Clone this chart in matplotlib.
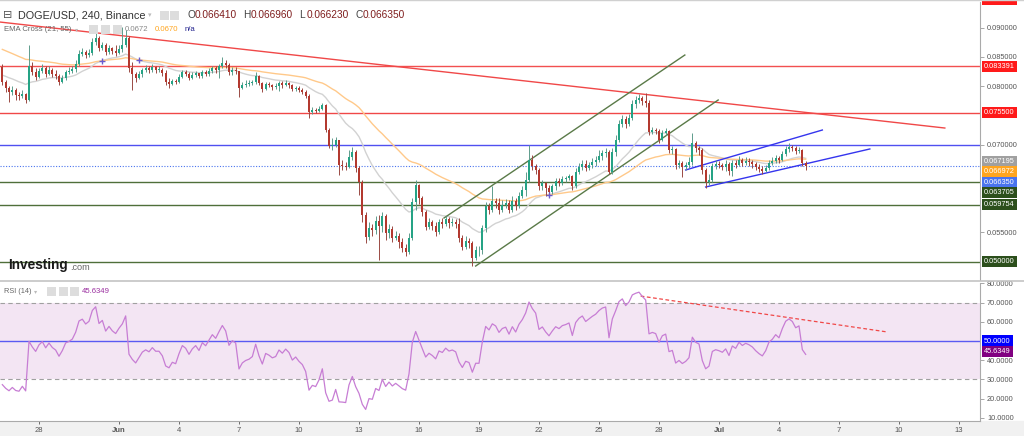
import numpy as np
import pandas as pd
import matplotlib
matplotlib.use("Agg")
import matplotlib.pyplot as plt
import matplotlib.dates as mdates
import matplotlib.transforms as mtransforms
from matplotlib.patches import Rectangle
from matplotlib.ticker import FixedLocator, FormatStrFormatter

plt.rcParams['font.family'] = ['Liberation Sans', 'DejaVu Sans']

# 4h candles, prices in units of 0.0001 (open of each candle = previous close)
UNIT = 1e-4
start_time = "2023-05-26 04:00"
first_open = 833
close = [
    807, 797, 790, 793, 785, 783, 787, 776, 834, 824,
    816, 826, 831, 821, 828, 821, 817, 807, 814, 824,
    826, 829, 838, 855, 858, 853, 857, 875, 882, 865,
    870, 858, 865, 860, 857, 864, 870, 882, 831, 821,
    814, 821, 828, 831, 828, 833, 828, 828, 822, 807,
    804, 809, 807, 816, 824, 821, 814, 819, 822, 817,
    824, 821, 826, 831, 828, 834, 840, 836, 824, 828,
    826, 797, 802, 804, 805, 807, 817, 805, 795, 804,
    802, 799, 800, 805, 802, 805, 802, 795, 797, 793,
    790, 783, 756, 759, 757, 761, 768, 725, 698, 699,
    708, 665, 664, 662, 679, 688, 660, 636, 580, 542,
    558, 554, 570, 561, 578, 549, 556, 540, 544, 534,
    523, 517, 540, 602, 631, 609, 585, 559, 568, 561,
    551, 568, 564, 573, 566, 568, 564, 540, 525, 535,
    532, 506, 520, 520, 558, 595, 588, 604, 600, 588,
    597, 600, 588, 604, 595, 612, 623, 640, 674, 664,
    657, 629, 635, 626, 619, 629, 638, 635, 641, 643,
    646, 629, 653, 662, 667, 660, 665, 670, 674, 681,
    686, 688, 653, 688, 708, 735, 744, 735, 746, 770,
    776, 780, 775, 771, 722, 725, 723, 708, 720, 723,
    691, 693, 665, 669, 662, 665, 670, 703, 694, 691,
    657, 636, 640, 664, 667, 665, 662, 667, 655, 669,
    665, 674, 669, 672, 670, 667, 662, 658, 655, 660,
    669, 672, 677, 674, 684, 693, 696, 694, 689, 691,
    669, 663.5]
high = [
    838, 811, 800, 800, 797, 790, 793, 788, 870, 841,
    831, 831, 838, 834, 834, 831, 828, 821, 819, 828,
    833, 834, 845, 862, 865, 862, 864, 882, 893, 886,
    875, 873, 870, 867, 870, 870, 901, 896, 886, 841,
    824, 826, 831, 836, 834, 838, 834, 834, 831, 828,
    814, 812, 812, 821, 828, 828, 824, 824, 826, 822,
    828, 828, 831, 834, 834, 838, 850, 845, 840, 833,
    833, 824, 807, 811, 811, 811, 824, 819, 807, 807,
    807, 804, 805, 809, 809, 811, 807, 804, 800, 800,
    797, 793, 787, 764, 763, 766, 771, 770, 728, 711,
    713, 708, 674, 670, 691, 696, 691, 664, 640, 585,
    568, 564, 578, 580, 585, 582, 564, 561, 552, 549,
    540, 530, 549, 609, 640, 633, 612, 588, 575, 571,
    568, 573, 575, 578, 577, 575, 573, 575, 546, 544,
    540, 535, 527, 527, 563, 602, 600, 629, 609, 609,
    605, 607, 605, 612, 609, 619, 629, 653, 699, 682,
    667, 660, 640, 636, 631, 633, 643, 643, 646, 646,
    650, 648, 660, 669, 674, 674, 670, 677, 681, 691,
    691, 694, 691, 694, 717, 742, 751, 749, 752, 776,
    783, 787, 783, 788, 776, 730, 728, 727, 725, 728,
    725, 698, 694, 674, 672, 670, 679, 720, 706, 698,
    694, 660, 650, 669, 674, 672, 669, 674, 670, 674,
    674, 681, 677, 679, 677, 674, 670, 667, 664, 665,
    674, 679, 682, 681, 689, 698, 703, 699, 698, 696,
    693, 672]
low = [
    802, 790, 773, 785, 776, 776, 780, 771, 775, 819,
    811, 814, 822, 816, 819, 816, 812, 802, 805, 811,
    821, 822, 824, 834, 852, 848, 850, 853, 870, 860,
    862, 853, 855, 855, 852, 855, 858, 867, 824, 793,
    807, 812, 816, 824, 822, 824, 822, 824, 817, 802,
    797, 802, 804, 805, 814, 817, 811, 812, 816, 814,
    814, 817, 817, 822, 822, 814, 831, 831, 819, 819,
    821, 781, 795, 799, 800, 802, 804, 802, 790, 793,
    799, 793, 795, 792, 797, 800, 797, 792, 792, 790,
    787, 780, 746, 752, 754, 756, 759, 722, 694, 691,
    696, 648, 657, 657, 660, 674, 653, 614, 568, 532,
    537, 544, 547, 503, 551, 537, 540, 534, 537, 523,
    517, 510, 513, 537, 588, 599, 578, 554, 556, 554,
    544, 547, 558, 561, 558, 561, 558, 534, 520, 522,
    523, 493, 503, 510, 513, 551, 582, 585, 592, 582,
    585, 592, 583, 585, 588, 592, 609, 612, 636, 657,
    650, 623, 623, 612, 612, 616, 623, 629, 631, 636,
    640, 623, 626, 650, 657, 655, 657, 660, 664, 670,
    674, 679, 650, 650, 681, 705, 730, 728, 732, 742,
    763, 771, 768, 764, 717, 718, 718, 703, 706, 717,
    686, 684, 658, 660, 645, 657, 660, 665, 688, 682,
    650, 626, 631, 636, 658, 660, 657, 655, 648, 646,
    660, 664, 664, 665, 664, 660, 657, 653, 650, 653,
    657, 665, 669, 669, 672, 681, 688, 689, 684, 686,
    664, 657]

# indicator seeds (value of the lines at the left edge)
ema_fast_seed = 820
ema_slow_seed = 865
rsi_seed_gain = 3.0
rsi_seed_loss = 6.0
# EMA cross signals shown on the chart
cross_times = ['2023-05-31 04:00', '2023-06-02 00:00', '2023-06-22 12:00']

# horizontal levels
level_values = [0.083391, 0.0755, 0.070, 0.063705, 0.059754, 0.050]
level_colors = ['#f25050', '#f04848', '#5050f0', '#4f6f3a', '#4f6f3a', '#4f6f3a']

# drawn trendlines: (start, end), (price start, price end)
red_trend = (['2023-05-26 01:00', '2023-07-12 07:00'], [0.09097, 0.07285])
green_upper = (['2023-06-17 06:00', '2023-06-29 07:00'], [0.05747, 0.08533])
green_lower = (['2023-06-18 20:00', '2023-06-30 23:00'], [0.04926, 0.07764])
blue_upper = (['2023-06-29 08:00', '2023-07-06 04:00'], [0.06568, 0.07251])
blue_lower = (['2023-06-30 08:00', '2023-07-08 13:00'], [0.06277, 0.06927])
rsi_trend = (['2023-06-27 02:00', '2023-07-09 10:00'], [73.4, 54.7])

# right-axis value tags
price_tags = [0.09475, 0.083391, 0.0755, 0.067195, 0.066972, 0.06635, 0.063705, 0.059754, 0.050]
price_tag_text = ['0.094750', '0.083391', '0.075500', '0.067195', '0.066972', '0.066350',
                  '0.063705', '0.059754', '0.050000']
price_tag_colors = ['#ff1a1a', '#ff1a1a', '#ff1a1a', '#a0a0a0', '#ffa51f', '#4a74ee',
                    '#2c4f1c', '#2c4f1c', '#2c4f1c']
rsi_tags = [50.0, 45.6349]
rsi_tag_text = ['50.0000', '45.6349']
rsi_tag_colors = ['#0000ff', '#800080']

# axis ticks (values covered by tags are not labelled)
price_ticks = [0.055, 0.070, 0.080, 0.085, 0.090]
rsi_ticks = [10, 20, 30, 40, 60, 70, 80]
xtick_dates = ['2023-05-28', '2023-06-01', '2023-06-04', '2023-06-07', '2023-06-10', '2023-06-13',
               '2023-06-16', '2023-06-19', '2023-06-22', '2023-06-25', '2023-06-28', '2023-07-01',
               '2023-07-04', '2023-07-07', '2023-07-10', '2023-07-13']
xtick_labels = ['28', 'Jun', '4', '7', '10', '13', '16', '19', '22', '25', '28', 'Jul',
                '4', '7', '10', '13']

W, H = 1024, 436
fig = plt.figure(figsize=(W / 100, H / 100), dpi=100)
fig.patch.set_facecolor('white')
fig.add_artist(Rectangle((0, 0), 1, 15 / H, transform=fig.transFigure, color='#f1f1f1', zorder=0))

ax = fig.add_axes([0, 1 - 280 / H, 980 / W, 278 / H])
ax2 = fig.add_axes([0, 1 - 421 / H, 980 / W, 138 / H], sharex=ax)

# candles
t = pd.date_range(start_time, periods=len(close), freq='4h')
x = mdates.date2num(t)
c = np.array(close) * UNIT
o = np.concatenate([[first_open * UNIT], c[:-1]])
hi = np.maximum(np.array(high) * UNIT, np.maximum(o, c))
lo = np.minimum(np.array(low) * UNIT, np.minimum(o, c))
up = c >= o
body_col = np.where(up, '#25a385', '#b3392f')
wick_col = np.where(up, '#5f9c8c', '#9a4a44')
ax.vlines(x, lo, hi, colors=wick_col, lw=0.7, zorder=3)
ax.bar(x, np.maximum(np.abs(c - o), 0.00006), bottom=np.minimum(o, c), width=0.115,
       color=body_col, zorder=4, linewidth=0)


def ema(vals, n, seed):
    a = 2 / (n + 1)
    e = seed
    out = []
    for v in vals:
        e = e + a * (v - e)
        out.append(e)
    return np.array(out)


ema_fast = ema(np.array(close, float), 21, ema_fast_seed) * UNIT
ema_slow = ema(np.array(close, float), 55, ema_slow_seed) * UNIT
ax.plot(x, ema_fast, color='#d2d2d2', lw=1.0, zorder=2)
ax.plot(x, ema_slow, color='#ffc98a', lw=1.0, zorder=2)
cx = mdates.date2num(pd.to_datetime(cross_times))
ci = [int(np.argmin(np.abs(x - v))) for v in cx]
ax.plot(x[ci], ema_slow[ci], '+', color='#6a5acd', ms=4, mew=1.0, zorder=5)

for v, col in zip(level_values, level_colors):
    ax.axhline(v, color=col, lw=1.0, zorder=1)
ax.axhline(c[-1], color='#4a74ee', lw=0.8, ls=(0, (1, 1.5)), zorder=1)

for (d, p), col in [(red_trend, '#f04848'), (green_upper, '#5a7a48'), (green_lower, '#5a7a48'),
                    (blue_upper, '#3535ee'), (blue_lower, '#3535ee')]:
    ax.plot(mdates.date2num(pd.to_datetime(d)), p, color=col, lw=1.0, zorder=2)

x0 = mdates.date2num(pd.Timestamp('2023-05-28'))
ax.set_xlim(x0 - 1.95, x0 + 47.05)
ax.set_ylim(0.05 - 18.3 / 5850, 0.05 + 259.7 / 5850)

# RSI
deltas = np.diff(np.concatenate([[first_open], close]).astype(float))
ag, al = rsi_seed_gain, rsi_seed_loss
rsi = []
for dv in deltas:
    ag = (ag * 13 + max(dv, 0)) / 14
    al = (al * 13 + max(-dv, 0)) / 14
    rsi.append(100 - 100 / (1 + ag / al))
ax2.axhspan(30, 70, color='#f3e5f3', zorder=0, lw=0)
ax2.axhline(70, color='#a0a0a0', lw=0.8, ls=(0, (4, 3)))
ax2.axhline(30, color='#a0a0a0', lw=0.8, ls=(0, (4, 3)))
ax2.axhline(50, color='#5a5af2', lw=1.0)
ax2.plot(x, rsi, color='#c77dd4', lw=0.9, zorder=3)
ax2.plot(mdates.date2num(pd.to_datetime(rsi_trend[0])), rsi_trend[1], color='#f04848', lw=0.9,
         ls=(0, (3, 2)))
ax2.set_ylim(50 - 80 / 1.92, 50 + 58 / 1.92)

# axes styling
for a in (ax, ax2):
    for s in a.spines.values():
        s.set_visible(False)
    a.spines['right'].set_visible(True)
    a.spines['right'].set_color('#aaaaaa')
    a.yaxis.tick_right()
    a.tick_params(axis='y', labelsize=5.3, colors='#555555', length=3, pad=2, width=0.6)
    a.tick_params(axis='y', color='#999999')
ax2.spines['bottom'].set_visible(True)
ax2.spines['bottom'].set_color('#aaaaaa')
ax.yaxis.set_major_locator(FixedLocator(price_ticks))
ax.yaxis.set_major_formatter(FormatStrFormatter('%.6f'))
ax2.yaxis.set_major_locator(FixedLocator(rsi_ticks))
ax2.yaxis.set_major_formatter(FormatStrFormatter('%.4f'))
ax.tick_params(axis='x', bottom=False, labelbottom=False)
ax2.set_xticks(mdates.date2num(pd.to_datetime(xtick_dates)))
ax2.set_xticklabels(xtick_labels)
ax2.tick_params(axis='x', labelsize=5.5, colors='#555555', length=2, pad=2, width=0.6)
for lbl in ax2.get_xticklabels():
    if lbl.get_text() in ('Jun', 'Jul'):
        lbl.set_fontweight('bold')


def draw_tags(a, vals, texts, cols, step):
    tr = mtransforms.blended_transform_factory(a.transAxes, a.transData)
    order = np.argsort(vals)[::-1]
    prev = None
    for k in order:
        pos = vals[k] if prev is None else min(vals[k], prev - step)
        prev = pos
        a.text(1.004, pos, texts[k], transform=tr, ha='left', va='center', fontsize=5.3,
               color='white', clip_on=False, zorder=10,
               bbox=dict(boxstyle='square,pad=0.28', fc=cols[k], ec='none'))


draw_tags(ax, price_tags, price_tag_text, price_tag_colors, 10.6 / 5850)
draw_tags(ax2, rsi_tags, rsi_tag_text, rsi_tag_colors, 10.5 / 1.92)

# frame lines
fig.add_artist(plt.Line2D([0, 1], [1 - 281 / H] * 2, transform=fig.transFigure, color='#c4c4c4', lw=1.2))
fig.add_artist(plt.Line2D([0, 1], [1 - 0.5 / H] * 2, transform=fig.transFigure, color='#d0d0d0', lw=1))


def ftext(px, py, s, **kw):
    fig.text(px / W, 1 - py / H, s, va='center', **kw)


def icon(px, py, size=9):
    fig.add_artist(Rectangle((px / W, 1 - (py + size / 2) / H), size / W, size / H,
                             transform=fig.transFigure, fc='#dddddd', ec='none', zorder=10))


ftext(3, 15.5, '\u229f', fontsize=8, color='#555555', family='DejaVu Sans')
ftext(18, 15.5, 'DOGE/USD, 240, Binance', fontsize=7.8, color='#333333')
ftext(148, 15.5, '\u25be', fontsize=5, color='#bbbbbb', family='DejaVu Sans')
icon(160, 15.5)
icon(170, 15.5)
ohlc_names = ['O', 'H', 'L', 'C']
ohlc_text = ['0.066410', '0.066960', '0.066230', '0.066350']
for k, (nm, val) in enumerate(zip(ohlc_names, ohlc_text)):
    ftext(187 + 56 * k, 15.5, nm, fontsize=7.3, color='#444444')
    ftext(195 + 56 * k, 15.5, val, fontsize=7.3, color='#7f1d1d')

ftext(4, 29.5, 'EMA Cross (21, 55)', fontsize=5.6, color='#666666')
ftext(75, 29.5, '\u25be', fontsize=4.5, color='#bbbbbb', family='DejaVu Sans')
for px in (89, 101, 113):
    icon(px, 29.5)
ftext(125, 29.5, '0.0672', fontsize=5.6, color='#888888')
ftext(155, 29.5, '0.0670', fontsize=5.6, color='#ffa51f')
ftext(185, 29.5, 'n/a', fontsize=5.6, color='#1f1f8c')

fig.text(8 / W, 1 - 269.5 / H, 'Investing', fontsize=9.8, fontweight='bold', color='#1a1a1a',
         va='baseline')
fig.text(70 / W, 1 - 269.5 / H, '.com', fontsize=6.6, color='#666666', va='baseline')

ftext(4, 291.5, 'RSI (14)', fontsize=5.3, color='#666666')
ftext(34, 291.5, '\u25be', fontsize=4.5, color='#bbbbbb', family='DejaVu Sans')
for px in (47, 58.5, 70):
    icon(px, 291.5)
ftext(82, 291.5, '45.6349', fontsize=5.6, color='#9b30a0')

fig.savefig('out.png', dpi=100)
